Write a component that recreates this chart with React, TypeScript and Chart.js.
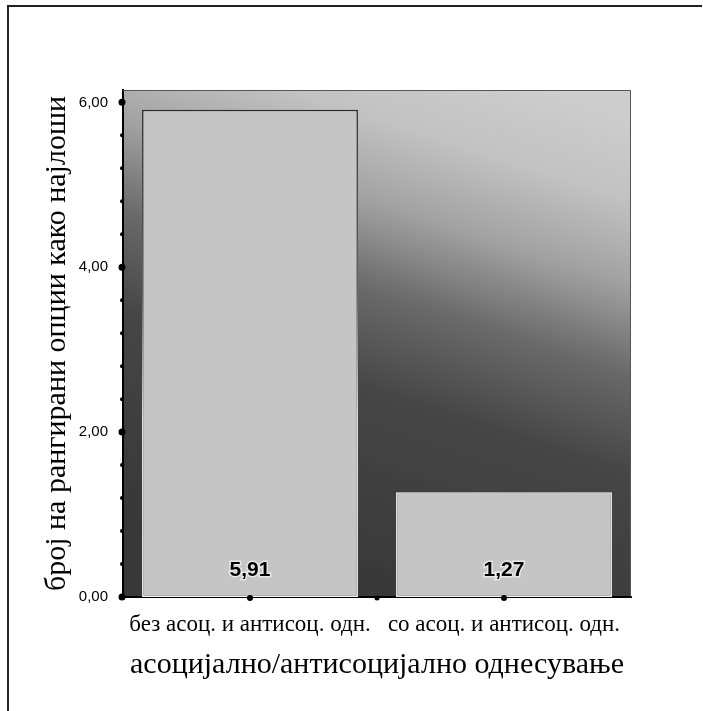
import { useEffect, useRef } from 'react';
import { Chart, registerables } from 'chart.js';

Chart.register(...registerables);

const categories = ['без асоц. и антисоц. одн.', 'со асоц. и антисоц. одн.'];
const values = [5.91, 1.27];
const valueLabels = ['5,91', '1,27'];
const yTickValues = [0, 2, 4, 6];
const yMinorTicks = [0, 0.4, 0.8, 1.2, 1.6, 2.0, 2.4, 2.8, 3.2, 3.6, 4.0, 4.4, 4.8, 5.2, 5.6, 6.0];
const yMax = 6.15;
const yAxisTitle = 'број на рангирани опции како најлоши';
const xAxisTitle = 'асоцијално/антисоцијално однесување';

const SERIF = '"Liberation Serif", "Times New Roman", serif';
const SANS = '"Liberation Sans", Arial, sans-serif';

const backgroundPlugin = {
  id: 'bgPlugin',
  beforeDraw(chart: any) {
    const { ctx, chartArea: a, width, height } = chart;
    ctx.save();
    ctx.fillStyle = '#ffffff';
    ctx.fillRect(0, 0, width, height);
    // page frame
    ctx.strokeStyle = '#222';
    ctx.lineWidth = 2;
    ctx.beginPath();
    ctx.moveTo(8, height);
    ctx.lineTo(8, 6);
    ctx.lineTo(width - 1, 6);
    ctx.stroke();
    // plot background gradient
    const w = a.right - a.left;
    const g = ctx.createLinearGradient(a.left + w * 0.84, a.top, a.left + w * 0.52, a.bottom);
    g.addColorStop(0, '#cdcdcd');
    g.addColorStop(0.15, '#c2c2c2');
    g.addColorStop(0.3, '#a2a2a2');
    g.addColorStop(0.46, '#6a6a6a');
    g.addColorStop(0.64, '#464646');
    g.addColorStop(1, '#383838');
    ctx.fillStyle = g;
    ctx.fillRect(a.left, a.top, w, a.bottom - a.top);
    ctx.restore();
  },
};

const overlayPlugin = {
  id: 'overlayPlugin',
  afterDraw(chart: any) {
    const { ctx, chartArea: a } = chart;
    const xs = chart.scales.x;
    const ys = chart.scales.y;
    ctx.save();
    // plot border top/right
    ctx.strokeStyle = '#555';
    ctx.lineWidth = 1;
    ctx.beginPath();
    ctx.moveTo(a.left, a.top + 0.5);
    ctx.lineTo(a.right - 0.5, a.top + 0.5);
    ctx.lineTo(a.right - 0.5, a.bottom);
    ctx.stroke();
    // y axis dots
    ctx.fillStyle = '#000';
    const axX = a.left - 1;
    yMinorTicks.forEach((v) => {
      const y = ys.getPixelForValue(v);
      const major = yTickValues.some((t) => Math.abs(t - v) < 1e-9);
      ctx.beginPath();
      ctx.arc(axX, y, major ? 3.5 : 2, 0, Math.PI * 2);
      ctx.fill();
    });
    // x axis dots: centres and boundaries
    const axY = a.bottom + 1;
    categories.forEach((_, i) => {
      const x = xs.getPixelForValue(i);
      ctx.beginPath();
      ctx.arc(x, axY, 3, 0, Math.PI * 2);
      ctx.fill();
      if (i < categories.length - 1) {
        const xb = (xs.getPixelForValue(i) + xs.getPixelForValue(i + 1)) / 2;
        ctx.beginPath();
        ctx.arc(xb, axY, 2.5, 0, Math.PI * 2);
        ctx.fill();
      }
    });
    // value labels
    const meta = chart.getDatasetMeta(0);
    ctx.font = 'bold 21px ' + SANS;
    ctx.textAlign = 'center';
    ctx.textBaseline = 'middle';
    meta.data.forEach((bar: any, i: number) => {
      const y = ys.getPixelForValue(0) - 27;
      ctx.lineWidth = 3;
      ctx.strokeStyle = 'rgba(255,255,255,0.6)';
      ctx.strokeText(valueLabels[i], bar.x, y);
      ctx.fillStyle = '#000';
      ctx.fillText(valueLabels[i], bar.x, y);
    });
    ctx.restore();
  },
};

export default function App() {
  const ref = useRef<HTMLCanvasElement | null>(null);

  useEffect(() => {
    document.body.style.margin = '0';
    const canvas = ref.current;
    if (!canvas) return;
    const chart = new Chart(canvas, {
      type: 'bar',
      data: {
        labels: categories,
        datasets: [
          {
            data: values,
            backgroundColor: '#c5c5c5',
            borderColor: (c: any) => {
              const area = c.chart.chartArea;
              if (!area) return '#888';
              const g = c.chart.ctx.createLinearGradient(0, area.top, 0, area.bottom);
              g.addColorStop(0, '#222');
              g.addColorStop(0.4, '#666');
              g.addColorStop(0.65, '#eeeeee');
              g.addColorStop(1, '#f4f4f4');
              return g;
            },
            borderWidth: 1.5,
            borderSkipped: false,
            barPercentage: 0.85,
            categoryPercentage: 1,
          },
        ],
      },
      options: {
        responsive: false,
        animation: false,
        devicePixelRatio: 1,
        layout: { padding: { left: 28, top: 90, right: 72, bottom: 20 } },
        plugins: {
          legend: { display: false },
          tooltip: { enabled: false },
          title: { display: false },
        },
        scales: {
          x: {
            type: 'category',
            offset: true,
            grid: { display: false, drawTicks: false },
            border: { display: true, color: '#000', width: 2 },
            ticks: {
              color: '#000',
              font: { family: SERIF, size: 23 },
              padding: 14,
              maxRotation: 0,
              autoSkip: false,
            },
            title: {
              display: true,
              text: xAxisTitle,
              color: '#000',
              font: { family: SERIF, size: 30 },
              padding: { top: 0, bottom: 8 },
            },
            afterFit: (s: any) => {
              s.height = 94;
            },
          },
          y: {
            type: 'linear',
            min: 0,
            max: yMax,
            grid: { display: false, drawTicks: false },
            border: { display: true, color: '#000', width: 2 },
            afterBuildTicks: (s: any) => {
              s.ticks = yTickValues.map((v) => ({ value: v }));
            },
            ticks: {
              color: '#000',
              font: { family: SANS, size: 15 },
              padding: 15,
              callback: (v: any) => Number(v).toFixed(2).replace('.', ','),
            },
            title: {
              display: true,
              text: yAxisTitle,
              color: '#000',
              font: { family: SERIF, size: 30 },
              padding: { top: 11, bottom: 0 },
            },
            afterFit: (s: any) => {
              s.width = 95;
            },
          },
        },
      },
      plugins: [backgroundPlugin, overlayPlugin],
    } as any);
    return () => chart.destroy();
  }, []);

  return (
    <canvas
      ref={ref}
      width={703}
      height={711}
      style={{ display: 'block', width: 703, height: 711 }}
    />
  );
}
